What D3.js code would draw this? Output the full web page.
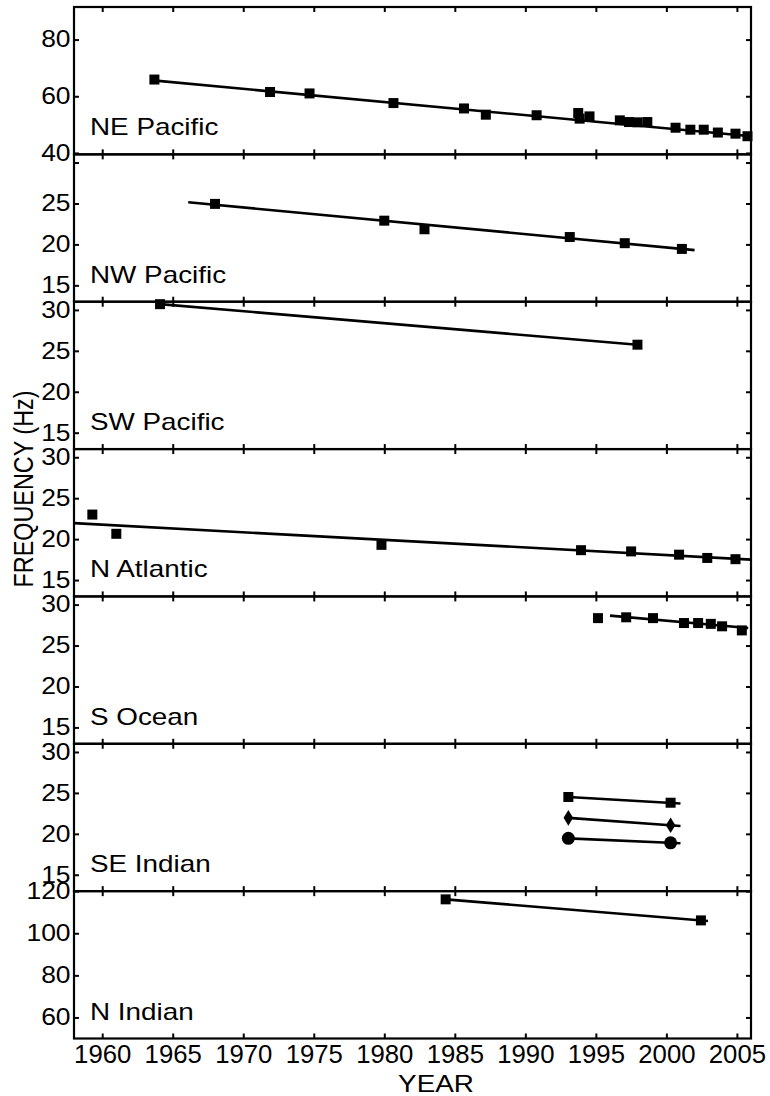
<!DOCTYPE html>
<html><head><meta charset="utf-8">
<script src="https://cdn.jsdelivr.net/npm/d3@7"></script>
<style>
body{margin:0;background:#fff}
text{font-family:"Liberation Sans",Arial,Helvetica,sans-serif;fill:#000}
</style>
</head><body>
<svg id="chart" width="770" height="1096"></svg>
<script>
// ---------- data ----------
const panelNames = ["NE Pacific","NW Pacific","SW Pacific","N Atlantic","S Ocean","SE Indian","N Indian"];
const xTickValues = [1960,1965,1970,1975,1980,1985,1990,1995,2000,2005];
const yDomains = [[39.5,91.5],[13,31],[13,31],[13,31],[13,31],[13,31],[50,120]];
const yTickValues = [[40,60,80],[15,20,25,30],[15,20,25,30],[15,20,25,30],[15,20,25,30],[15,20,25,30],[60,80,100,120]];
const yTickLabelShown = [[1,1,1],[1,1,1,0],[1,1,1,1],[1,1,1,1],[1,1,1,1],[1,1,1,1],[1,1,1,1]];

const nePacYears = [1963.7,1971.9,1974.7,1980.65,1985.65,1987.2,1990.8,1993.75,1993.85,1994.55,1996.7,1997.35,1997.95,1998.65,2000.65,2001.7,2002.65,2003.65,2004.9,2005.75];
const nePacFreq  = [65.9,61.5,61.0,57.6,55.7,53.5,53.3,54.1,52.1,52.9,51.5,50.9,50.8,50.9,48.9,48.2,48.2,47.2,46.8,45.9];
const nePacFitYears = [1963.6,2006];
const nePacFitFreq  = [65.6,45.9];

const nwPacYears = [1968.0,1980.0,1982.85,1993.15,1997.05,2001.1];
const nwPacFreq  = [24.95,22.9,21.85,20.9,20.15,19.45];
const nwPacFitYears = [1966.1,2002.0];
const nwPacFitFreq  = [25.15,19.3];

const swPacYears = [1964.1,1997.95];
const swPacFreq  = [30.7,25.75];
const swPacFitYears = [1964.1,1997.95];
const swPacFitFreq  = [30.7,25.75];

const nAtlYears = [1959.3,1961.0,1979.8,1993.95,1997.5,2000.9,2002.9,2004.9];
const nAtlFreq  = [23.0,20.65,19.3,18.65,18.5,18.1,17.7,17.55];
const nAtlFitYears = [1958,2006];
const nAtlFitFreq  = [21.95,17.5];

const sOceanYears = [1995.15,1997.15,1999.05,2001.25,2002.25,2003.15,2003.95,2005.35];
const sOceanFreq  = [28.35,28.45,28.35,27.75,27.75,27.65,27.35,26.85];
const sOceanFitYears = [1996.0,2005.8];
const sOceanFitFreq  = [28.65,27.15];

const seIndYears = [1993.05,2000.3];
const seIndSquareFreq  = [24.5,23.8];
const seIndDiamondFreq = [21.95,21.05];
const seIndCircleFreq  = [19.45,18.9];
const seIndFitYears = [1993.05,2001.0];
const seIndSquareFit  = [24.5,23.7];
const seIndDiamondFit = [21.95,20.95];
const seIndCircleFit  = [19.45,18.85];

const nIndYears = [1984.35,2002.45];
const nIndFreq  = [116.1,106.1];
const nIndFitYears = [1984.35,2002.95];
const nIndFitFreq  = [116.1,105.8];

// ---------- assemble ----------
const zip = (xs, ys) => xs.map((x,i)=>({x, y: ys[i]}));
const panels = [
  {points:[{shape:"square",data:zip(nePacYears,nePacFreq)}], fits:[zip(nePacFitYears,nePacFitFreq)]},
  {points:[{shape:"square",data:zip(nwPacYears,nwPacFreq)}], fits:[zip(nwPacFitYears,nwPacFitFreq)]},
  {points:[{shape:"square",data:zip(swPacYears,swPacFreq)}], fits:[zip(swPacFitYears,swPacFitFreq)]},
  {points:[{shape:"square",data:zip(nAtlYears,nAtlFreq)}], fits:[zip(nAtlFitYears,nAtlFitFreq)]},
  {points:[{shape:"square",data:zip(sOceanYears,sOceanFreq)}], fits:[zip(sOceanFitYears,sOceanFitFreq)]},
  {points:[{shape:"square",data:zip(seIndYears,seIndSquareFreq)},
           {shape:"diamond",data:zip(seIndYears,seIndDiamondFreq)},
           {shape:"circle",data:zip(seIndYears,seIndCircleFreq)}],
   fits:[zip(seIndFitYears,seIndSquareFit),zip(seIndFitYears,seIndDiamondFit),zip(seIndFitYears,seIndCircleFit)]},
  {points:[{shape:"square",data:zip(nIndYears,nIndFreq)}], fits:[zip(nIndFitYears,nIndFitFreq)]}
];

// ---------- layout ----------
const L = 74, R = 751, T = 7, B = 1038.5;
const nP = panels.length;
const pH = (B - T) / nP;
const tick = 5;
const SX_YT = 1.15, SX_XT = 1.03, SX_LAB = 1.19;

const svg = d3.select("#chart");
const x = d3.scaleLinear().domain([1958,2006]).range([L,R]);

const squareSym = {draw(ctx,size){const h=Math.sqrt(size)/2; ctx.rect(-h,-h,2*h,2*h);}};
const diamondSym = {draw(ctx,size){const h=Math.sqrt(size)/2; const w=h*0.8; ctx.moveTo(0,-h*1.3); ctx.lineTo(w,0); ctx.lineTo(0,h*1.3); ctx.lineTo(-w,0); ctx.closePath();}};
const circleSym = {draw(ctx,size){const r=Math.sqrt(size)/2; ctx.moveTo(r,0); ctx.arc(0,0,r,0,2*Math.PI);}};
const symbols = {
  square: d3.symbol().type(squareSym).size(100),
  diamond: d3.symbol().type(diamondSym).size(144),
  circle: d3.symbol().type(circleSym).size(169)
};

panels.forEach((p, i) => {
  const top = T + i*pH, bot = top + pH;
  const y = d3.scaleLinear().domain(yDomains[i]).range([bot, top]);
  const g = svg.append("g");

  // axes
  const yl = g.append("g").attr("transform",`translate(${L},0)`)
    .call(d3.axisLeft(y).tickValues(yTickValues[i]).tickSize(-tick).tickPadding(3)
      .tickFormat((d,k)=> yTickLabelShown[i][k] ? d : ""));
  const yr = g.append("g").attr("transform",`translate(${R},0)`)
    .call(d3.axisRight(y).tickValues(yTickValues[i]).tickSize(-tick).tickFormat(""));
  const xt = g.append("g").attr("transform",`translate(0,${top})`)
    .call(d3.axisTop(x).tickValues(xTickValues).tickSize(-tick).tickFormat(""));
  const xb = g.append("g").attr("transform",`translate(0,${bot})`)
    .call(d3.axisBottom(x).tickValues(xTickValues).tickSize(-tick).tickPadding(7)
      .tickFormat(i === nP-1 ? d3.format("d") : ""));
  [yl,yr,xt,xb].forEach(a=>{
    a.select(".domain").remove();
    a.selectAll(".tick line").attr("stroke","#000").attr("stroke-width",2);
  });
  yl.selectAll(".tick text").attr("font-size",23).attr("fill","#000")
    .attr("transform",`scale(${SX_YT},1)`);
  xb.selectAll(".tick text").attr("font-size",25).attr("fill","#000")
    .attr("transform",`scale(${SX_XT},1)`);

  // fit lines
  const line = d3.line().x(d=>x(d.x)).y(d=>y(d.y));
  p.fits.forEach(f=>{
    g.append("path").attr("d",line(f)).attr("fill","none").attr("stroke","#000").attr("stroke-width",2.6);
  });
  // markers
  p.points.forEach(s=>{
    g.selectAll(null).data(s.data).enter().append("path")
      .attr("d",symbols[s.shape]())
      .attr("transform",d=>`translate(${x(d.x)},${y(d.y)})`)
      .attr("fill","#000");
  });

  // panel label
  g.append("text").attr("transform",`translate(90,${bot-19}) scale(${SX_LAB},1)`)
    .attr("font-size",23.4).text(panelNames[i]);

  // border
  g.append("rect").attr("x",L).attr("y",top).attr("width",R-L).attr("height",pH)
    .attr("fill","none").attr("stroke","#000").attr("stroke-width",2.2);
});

// axis titles
svg.append("text").attr("transform",`translate(436,1092) scale(${SX_LAB},1)`)
  .attr("text-anchor","middle").attr("font-size",23.4).text("YEAR");
svg.append("text").attr("transform",`translate(33,489) rotate(-90) scale(1,${SX_LAB})`)
  .attr("text-anchor","middle").attr("font-size",23.4).text("FREQUENCY (Hz)");
</script>
</body></html>
